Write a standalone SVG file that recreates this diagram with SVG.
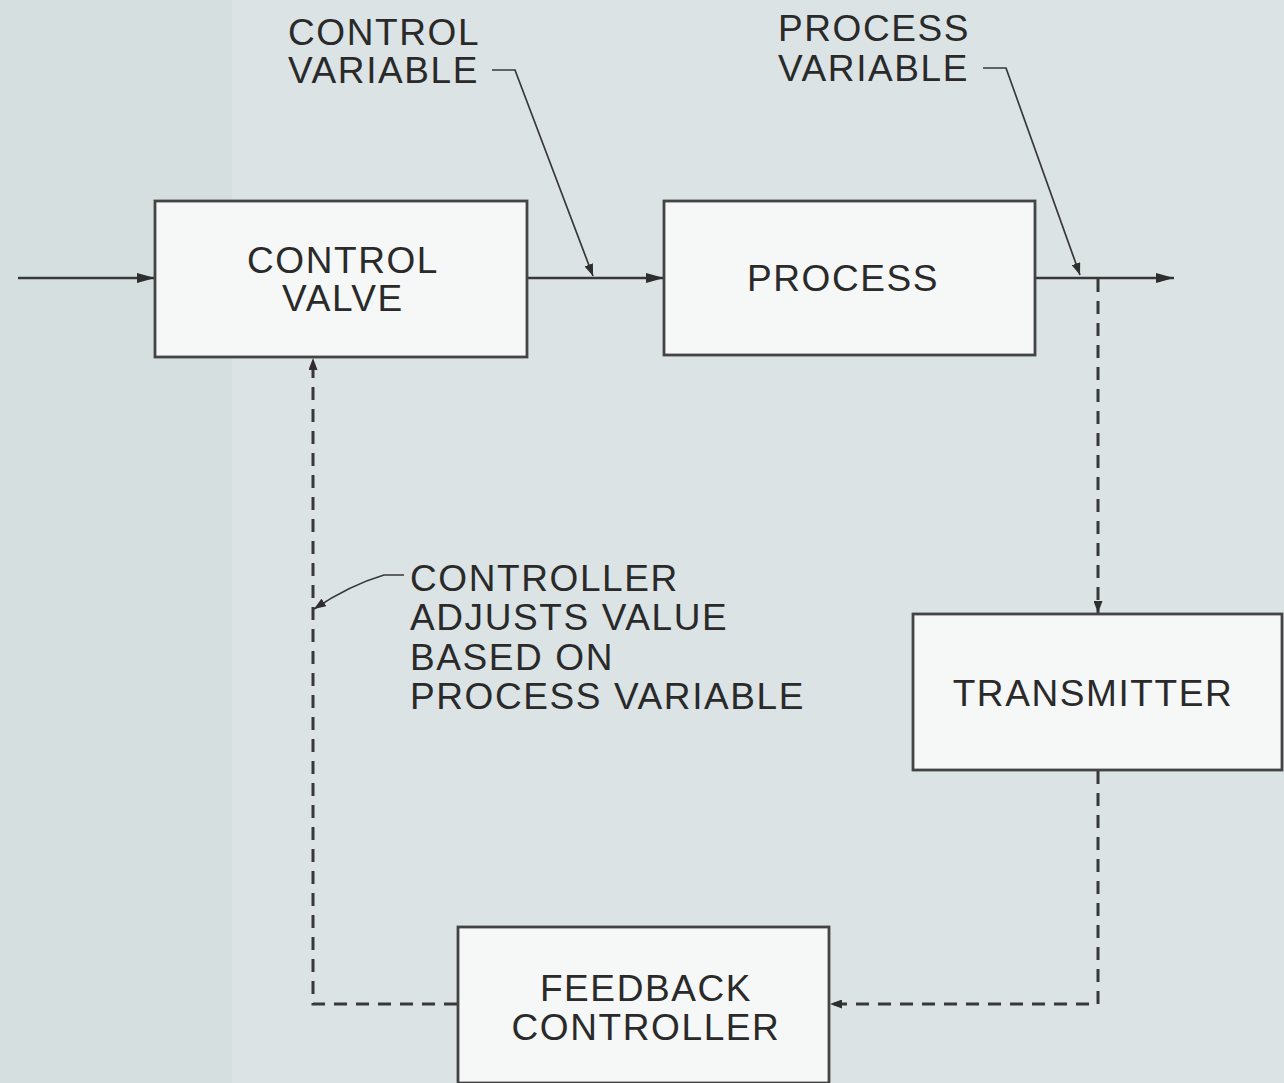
<svg xmlns="http://www.w3.org/2000/svg" width="1284" height="1083" viewBox="0 0 1284 1083">
<defs>
<style>
.box{fill:#f6f7f7;stroke:#444;stroke-width:2.8}
.t{font-family:"Liberation Sans",Arial,sans-serif;font-size:37px;letter-spacing:1.6px;fill:#2a2a2a}
.c{text-anchor:middle}
.ln{fill:none;stroke:#383838;stroke-width:2.3}
.ds{fill:none;stroke:#383838;stroke-width:3;stroke-dasharray:13 9}
.ld{fill:none;stroke:#383838;stroke-width:1.7}
</style>
<marker id="ah" viewBox="0 0 18 10" refX="18" refY="5" markerWidth="18" markerHeight="10" markerUnits="userSpaceOnUse" orient="auto">
<path d="M0,0 L18,5 L0,10 Z" fill="#2e2e2e"/>
</marker>
<marker id="as" viewBox="0 0 12 9" refX="12" refY="4.5" markerWidth="12" markerHeight="9" markerUnits="userSpaceOnUse" orient="auto">
<path d="M0,0 L12,4.5 L0,9 Z" fill="#2e2e2e"/>
</marker>
</defs>
<rect x="0" y="0" width="1284" height="1083" fill="#dbe3e5"/>
<rect x="0" y="0" width="232" height="1083" fill="#d5dfe0"/>

<g id="connectors">
<line class="ln" x1="18" y1="278" x2="155" y2="278" marker-end="url(#ah)"/>
<line class="ln" x1="527" y1="278" x2="664" y2="278" marker-end="url(#ah)"/>
<line class="ln" x1="1035" y1="278" x2="1174" y2="278" marker-end="url(#ah)"/>
<path class="ds" d="M1098,279 V613" marker-end="url(#as)"/>
<path class="ds" d="M1098,771 V1004 H830" marker-end="url(#as)"/>
<path class="ds" d="M457,1004 H313 V358" marker-end="url(#as)"/>
<path class="ld" d="M492,70 H515 L593,276" marker-end="url(#as)"/>
<path class="ld" d="M983,68 H1006 L1080,275" marker-end="url(#as)"/>
<path class="ld" d="M404,575 H384 Q350,585 314,609" marker-end="url(#as)"/>
</g>

<g id="control-valve">
<rect class="box" x="155" y="201" width="372" height="156"/>
<text class="t c" x="343" y="273">CONTROL</text>
<text class="t c" x="343" y="311">VALVE</text>
</g>
<g id="process">
<rect class="box" x="664" y="201" width="371" height="154"/>
<text class="t c" x="843" y="291">PROCESS</text>
</g>
<g id="transmitter">
<rect class="box" x="913" y="614" width="369" height="156"/>
<text class="t c" x="1093" y="706">TRANSMITTER</text>
</g>
<g id="feedback-controller">
<rect class="box" x="458" y="927" width="371" height="156"/>
<text class="t c" x="646" y="1001">FEEDBACK</text>
<text class="t c" x="646" y="1040">CONTROLLER</text>
</g>
<g id="label-control-variable">
<text class="t" x="288" y="45">CONTROL</text>
<text class="t" x="288" y="83">VARIABLE</text>
</g>
<g id="label-process-variable">
<text class="t" x="778" y="41">PROCESS</text>
<text class="t" x="778" y="81">VARIABLE</text>
</g>
<g id="label-controller-adjusts">
<text class="t" x="410" y="591">CONTROLLER</text>
<text class="t" x="410" y="630">ADJUSTS VALUE</text>
<text class="t" x="410" y="670">BASED ON</text>
<text class="t" x="410" y="709">PROCESS VARIABLE</text>
</g>
</svg>
